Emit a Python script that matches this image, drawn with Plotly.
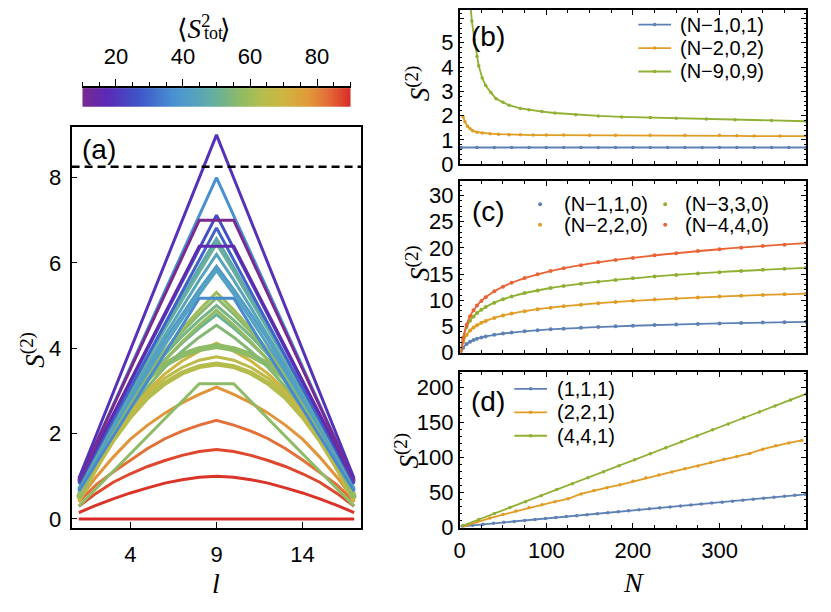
import numpy as np
import plotly.graph_objects as go
from plotly.colors import sample_colorscale

# page is 831x612; the browser's default 8px body margin surrounds the figure
PAD = 8
W, H = 831 - 2 * PAD, 612 - 2 * PAD
def fx(p): return (p - PAD) / W
def fy(p): return 1 - (p - PAD) / H

# ---------------- data: panel (a) ----------------
l_sites = list(range(1, 18))

a_peak900 = [0.95,1.96,2.96,3.97,4.98,5.98,6.99,7.99,9.0,7.99,6.99,5.98,4.98,3.97,2.96,1.96,0.95]
a_peak800 = [0.9,1.79,2.68,3.56,4.45,5.34,6.23,7.11,8.0,7.11,6.23,5.34,4.45,3.56,2.68,1.79,0.9]
a_flat700 = [0.9,1.77,2.64,3.51,4.39,5.26,6.13,7.0,7.0,7.0,6.13,5.26,4.39,3.51,2.64,1.77,0.9]
a_peak712 = [0.85,1.63,2.42,3.2,3.99,4.77,5.55,6.34,7.12,6.34,5.55,4.77,3.99,3.2,2.42,1.63,0.85]
a_peak682 = [0.82,1.57,2.32,3.07,3.82,4.57,5.32,6.07,6.82,6.07,5.32,4.57,3.82,3.07,2.32,1.57,0.82]
a_flat639 = [0.88,1.67,2.45,3.24,4.03,4.82,5.6,6.39,6.39,6.39,5.6,4.82,4.03,3.24,2.45,1.67,0.88]
a_flat517 = [0.65,1.3,1.94,2.59,3.23,3.88,4.52,5.17,5.17,5.17,4.52,3.88,3.23,2.59,1.94,1.3,0.65]
a_peak657 = [0.72,1.5,2.27,3.03,3.78,4.5,5.2,5.9,6.57,5.9,5.2,4.5,3.78,3.03,2.27,1.5,0.72]
a_peak645 = [0.7,1.5,2.28,3.03,3.75,4.45,5.12,5.8,6.45,5.8,5.12,4.45,3.75,3.03,2.28,1.5,0.7]
a_peak620 = [0.68,1.45,2.2,2.92,3.62,4.3,4.95,5.6,6.2,5.6,4.95,4.3,3.62,2.92,2.2,1.45,0.68]
a_peak592 = [0.68,1.45,2.18,2.88,3.55,4.2,4.8,5.38,5.92,5.38,4.8,4.2,3.55,2.88,2.18,1.45,0.68]
a_peak582 = [0.66,1.4,2.12,2.8,3.45,4.08,4.68,5.27,5.82,5.27,4.68,4.08,3.45,2.8,2.12,1.4,0.66]
a_peak531 = [0.55,1.35,2.1,2.8,3.4,3.95,4.45,4.9,5.31,4.9,4.45,3.95,3.4,2.8,2.1,1.35,0.55]
a_peak518 = [0.6,1.4,2.15,2.82,3.4,3.92,4.38,4.8,5.18,4.8,4.38,3.92,3.4,2.82,2.15,1.4,0.6]
a_peak500 = [0.55,1.38,2.12,2.78,3.35,3.85,4.28,4.66,5.0,4.66,4.28,3.85,3.35,2.78,2.12,1.38,0.55]
a_peak489 = [0.5,1.3,2.02,2.66,3.22,3.72,4.15,4.54,4.89,4.54,4.15,3.72,3.22,2.66,2.02,1.3,0.5]
a_peak479 = [0.58,1.4,2.12,2.75,3.28,3.73,4.12,4.47,4.79,4.47,4.12,3.73,3.28,2.75,2.12,1.4,0.58]
a_peak454 = [0.5,1.3,2.0,2.6,3.1,3.55,3.93,4.26,4.54,4.26,3.93,3.55,3.1,2.6,2.0,1.3,0.5]
a_round405 = [0.5,1.4,2.2,2.85,3.3,3.62,3.84,3.98,4.05,3.98,3.84,3.62,3.3,2.85,2.2,1.4,0.5]
a_peak412 = [0.42,1.25,1.95,2.55,3.02,3.4,3.7,3.93,4.12,3.93,3.7,3.4,3.02,2.55,1.95,1.25,0.42]
a_round380 = [0.4,1.15,1.85,2.45,2.95,3.3,3.55,3.72,3.8,3.72,3.55,3.3,2.95,2.45,1.85,1.15,0.4]
a_round363 = [0.45,1.2,1.85,2.4,2.85,3.18,3.42,3.57,3.63,3.57,3.42,3.18,2.85,2.4,1.85,1.2,0.45]
a_flat317 = [0.3,0.71,1.12,1.53,1.94,2.35,2.76,3.17,3.17,3.17,2.76,2.35,1.94,1.53,1.12,0.71,0.3]
a_peak309 = [0.45,0.98,1.45,1.87,2.2,2.48,2.72,2.92,3.09,2.92,2.72,2.48,2.2,1.87,1.45,0.98,0.45]
a_peak231 = [0.4,0.8,1.1,1.38,1.65,1.88,2.06,2.2,2.31,2.2,2.06,1.88,1.65,1.38,1.1,0.8,0.4]
a_peak163 = [0.3,0.6,0.86,1.06,1.23,1.37,1.49,1.58,1.63,1.58,1.49,1.37,1.23,1.06,0.86,0.6,0.3]
a_peak100 = [0.15,0.32,0.47,0.61,0.73,0.84,0.92,0.98,1.0,0.98,0.92,0.84,0.73,0.61,0.47,0.32,0.15]
a_zero = [0,0,0,0,0,0,0,0,0,0,0,0,0,0,0,0,0]

a_curves = [a_zero, a_peak100, a_peak163, a_peak231, a_peak309, a_flat317, a_round363,
            a_round380, a_peak412, a_round405, a_peak454, a_peak479, a_peak489, a_peak500,
            a_peak518, a_peak531, a_peak582, a_peak592, a_peak620, a_peak645, a_peak657,
            a_flat517, a_peak682, a_peak712, a_flat639, a_peak800, a_flat700, a_peak900]
# <S_tot^2> value (colour) of each curve, same order
a_stot = [90, 89, 87, 83, 78, 57, 64, 66, 70, 57, 55, 51, 58, 53, 56, 60, 43, 41, 44, 50, 47,
          36, 29, 25, 16, 37, 10, 19]
a_widths = [3, 3, 3, 3, 3, 3, 5, 3, 3, 6, 3, 3, 3, 3, 3, 3, 3, 3, 3, 3, 3,
            3, 3, 3, 3, 3, 3, 3]
page_value = 8.25
stot_range = [10, 90]

# ---------------- data: panel (b) ----------------
b_blue_N = [2, 20, 40, 60, 80, 100, 120, 140, 160, 180, 200, 220, 240, 260, 280, 300, 320, 340, 360, 380, 400]
b_blue_S = [0.69, 0.69, 0.69, 0.69, 0.69, 0.69, 0.69, 0.69, 0.69, 0.69, 0.69, 0.69, 0.69, 0.69, 0.69, 0.69, 0.69, 0.69, 0.69, 0.69, 0.69]
b_orange_N = [4, 6, 9, 12, 15, 20, 26, 35, 45, 57, 70, 85, 100, 120, 150, 180, 220, 260, 300, 320, 340, 370, 400]
b_orange_S = [1.96, 1.75, 1.56, 1.46, 1.38, 1.32, 1.29, 1.26, 1.24, 1.22, 1.21, 1.2, 1.2, 1.2, 1.19, 1.19, 1.19, 1.19, 1.19, 1.17, 1.16, 1.16, 1.16]
b_green_N = [10, 12, 14, 17, 20, 22, 26, 30, 36, 42, 50, 57, 70, 80, 95, 110, 134, 160, 187, 220, 250, 285, 318, 360, 400]
b_green_S = [7.6, 6.6, 5.9, 5.12, 4.45, 4.05, 3.55, 3.24, 2.95, 2.7, 2.55, 2.43, 2.3, 2.24, 2.17, 2.11, 2.04, 1.99, 1.95, 1.92, 1.89, 1.86, 1.83, 1.8, 1.77]

# ---------------- data: panel (c) ----------------
c_N = [4, 8, 12, 16, 20, 25, 30, 40, 50, 60, 75, 90, 105, 120, 140, 160, 180, 200, 225, 250, 275, 300, 325, 350, 375, 400]
c_blue = [0.93, 1.68, 2.11, 2.42, 2.67, 2.91, 3.1, 3.41, 3.65, 3.85, 4.09, 4.29, 4.46, 4.6, 4.77, 4.91, 5.04, 5.15, 5.28, 5.39, 5.5, 5.59, 5.68, 5.76, 5.83, 5.9]
c_orange = [2.0, 3.4, 4.22, 4.8, 5.25, 5.7, 6.07, 6.65, 7.1, 7.47, 7.92, 8.29, 8.6, 8.87, 9.18, 9.45, 9.69, 9.9, 10.14, 10.35, 10.54, 10.72, 10.88, 11.03, 11.17, 11.3]
c_green = [2.92, 4.92, 6.09, 6.92, 7.56, 8.21, 8.73, 9.56, 10.21, 10.73, 11.38, 11.9, 12.35, 12.73, 13.18, 13.56, 13.9, 14.21, 14.55, 14.85, 15.13, 15.38, 15.61, 15.82, 16.02, 16.21]
c_red = [2.6, 5.36, 6.97, 8.1, 9.0, 9.88, 10.6, 11.75, 12.6, 13.35, 14.25, 14.96, 15.58, 16.1, 16.7, 17.25, 17.7, 18.1, 18.6, 19.0, 19.4, 19.75, 20.05, 20.35, 20.6, 20.9]
c_fit_N = [1.5, 2, 3, 4, 6, 8, 12, 16, 25, 40, 60, 100, 150, 200, 300, 400]
c_fit_blue = [0, 0.18, 0.62, 0.93, 1.37, 1.68, 2.11, 2.42, 2.91, 3.41, 3.85, 4.4, 4.84, 5.15, 5.59, 5.9]
c_fit_orange = [0.02, 0.6, 1.42, 2.0, 2.82, 3.4, 4.22, 4.8, 5.7, 6.65, 7.47, 8.5, 9.32, 9.9, 10.72, 11.3]
c_fit_green = [0.09, 0.92, 2.09, 2.92, 4.09, 4.92, 6.09, 6.92, 8.21, 9.56, 10.73, 12.21, 13.38, 14.21, 15.38, 16.21]
c_fit_red = [0, 0, 1.46, 2.6, 4.21, 5.36, 6.97, 8.1, 9.88, 11.75, 13.35, 15.38, 16.99, 18.1, 19.75, 20.9]

# ---------------- data: panel (d) ----------------
d_blue_N = [3, 15, 27, 39, 51, 63, 75, 87, 99, 111, 123, 135, 147, 159, 171, 183, 195, 207, 219, 231, 243, 255, 267, 279, 291, 303, 315, 327, 339, 351, 363, 375, 387, 399]
d_blue_S = [1.8, 3.2, 4.6, 6.0, 7.4, 8.7, 10.1, 11.5, 12.9, 14.3, 15.6, 17.0, 18.4, 19.8, 21.2, 22.5, 23.9, 25.3, 26.7, 28.1, 29.4, 30.8, 32.2, 33.6, 35.0, 36.3, 37.7, 39.1, 40.5, 41.9, 43.2, 44.6, 46.0, 47.4]
d_orange_N = [5, 20, 35, 50, 65, 80, 95, 110, 125, 140, 155, 170, 185, 200, 215, 230, 245, 260, 275, 290, 305, 320, 335, 350, 365, 380, 395]
d_orange_S = [2, 8, 13.5, 18.5, 23.5, 28.5, 32.5, 37, 41, 48, 53, 57, 61, 66, 71, 75, 79.5, 84, 88, 93, 97.5, 101.5, 106, 112, 117, 121, 124.5]
d_green_N = [4, 22, 40, 58, 76, 94, 112, 130, 148, 166, 184, 202, 220, 238, 256, 274, 292, 310, 328, 346, 364, 382, 400]
d_green_S = [2.9, 11.5, 20, 28.5, 37, 45.6, 54.2, 62.7, 71.3, 79.8, 88.4, 97, 105.5, 114, 122.6, 131, 139.7, 148.2, 156.8, 165.3, 173.9, 182.4, 191]

b_labels = ["(N\u22121,0,1)", "(N\u22122,0,2)", "(N\u22129,0,9)"]
c_labels = ["(N\u22121,1,0)", "(N\u22122,2,0)", "(N\u22123,3,0)", "(N\u22124,4,0)"]
d_labels = ["(1,1,1)", "(2,2,1)", "(4,4,1)"]

# ---------------- styling ----------------
RAINBOW = [[0.0, 'rgb(122,42,142)'], [0.09, 'rgb(90,42,181)'], [0.21, 'rgb(62,85,200)'],
           [0.35, 'rgb(74,149,210)'], [0.42, 'rgb(85,162,190)'], [0.5, 'rgb(104,176,154)'],
           [0.59, 'rgb(143,187,101)'], [0.66, 'rgb(176,190,79)'], [0.75, 'rgb(207,181,64)'],
           [0.84, 'rgb(225,154,58)'], [0.91, 'rgb(227,113,58)'], [1.0, 'rgb(217,42,37)']]
BLUE, ORANGE, GREEN, RED = '#5E81B5', '#E19C24', '#8FB032', '#EB6235'
SANS = "Liberation Sans, Arial, sans-serif"
SERIF = "Liberation Serif, DejaVu Serif, serif"
TICKF = dict(family=SANS, size=22, color='black')

fig = go.Figure()

lo, hi = stot_range
a_colors = sample_colorscale(RAINBOW, [(v - lo) / (hi - lo) for v in a_stot])
for ys, col, w in zip(a_curves, a_colors, a_widths):
    fig.add_trace(go.Scatter(x=l_sites, y=ys, mode='lines', line=dict(color=col, width=w),
                             xaxis='x', yaxis='y', showlegend=False, hoverinfo='skip'))

cb_x = np.linspace(lo, hi, 161)
fig.add_trace(go.Heatmap(x=cb_x, y=[0], z=[cb_x], colorscale=RAINBOW, zmin=lo, zmax=hi,
                         showscale=False, xaxis='x2', yaxis='y2', hoverinfo='skip'))

for n, s, col in [(b_blue_N, b_blue_S, BLUE), (b_orange_N, b_orange_S, ORANGE), (b_green_N, b_green_S, GREEN)]:
    fig.add_trace(go.Scatter(x=n, y=s, mode='lines+markers', line=dict(color=col, width=1.8),
                             marker=dict(color=col, size=3.5), xaxis='x3', yaxis='y3', showlegend=False))

for fitv, pts, col in [(c_fit_blue, c_blue, BLUE), (c_fit_orange, c_orange, ORANGE),
                       (c_fit_green, c_green, GREEN), (c_fit_red, c_red, RED)]:
    fig.add_trace(go.Scatter(x=c_fit_N, y=fitv, mode='lines', line=dict(color=col, width=1.8, shape='spline'),
                             xaxis='x4', yaxis='y4', showlegend=False))
    fig.add_trace(go.Scatter(x=c_N, y=pts, mode='markers', marker=dict(color=col, size=4),
                             xaxis='x4', yaxis='y4', showlegend=False))

for n, s, col in [(d_blue_N, d_blue_S, BLUE), (d_orange_N, d_orange_S, ORANGE), (d_green_N, d_green_S, GREEN)]:
    fig.add_trace(go.Scatter(x=n, y=s, mode='lines+markers', line=dict(color=col, width=1.8),
                             marker=dict(color=col, size=3.5), xaxis='x5', yaxis='y5', showlegend=False))

def frame_axis(**kw):
    base = dict(showline=True, linecolor='black', linewidth=1.6, mirror=True, ticks='inside',
                tickcolor='black', tickwidth=1.2, showgrid=False, zeroline=False, tickfont=TICKF)
    base.update(kw)
    return base

right_x = [fx(457), fx(806)]
minor_x = dict(dtick=25, ticklen=3, ticks='inside', tickcolor='black')
layout = dict(
    width=W, height=H, autosize=False, margin=dict(l=0, r=0, t=0, b=0),
    paper_bgcolor='white', plot_bgcolor='white', showlegend=False,
    xaxis=frame_axis(domain=[fx(66), fx(358)], range=[0.58, 17.42], tickvals=[4, 9, 14], ticklen=6,
                     anchor='y', ticklabelstandoff=6),
    yaxis=frame_axis(domain=[fy(539), fy(129)], range=[-0.2, 9.18], tickvals=[0, 2, 4, 6, 8], ticklen=6,
                     anchor='x', ticklabelstandoff=4),
    xaxis2=dict(domain=[fx(77), fx(347)], range=[lo, hi], side='top', anchor='y2', showline=True,
                linecolor='black', linewidth=1.6, ticks='outside', ticklen=7, tickwidth=1.2,
                tickcolor='black', tickvals=[20, 40, 60, 80], tickfont=TICKF, showgrid=False,
                zeroline=False, ticklabelstandoff=6,
                minor=dict(dtick=5, tick0=0, ticks='outside', ticklen=4, tickcolor='black', tickwidth=1.2)),
    yaxis2=dict(domain=[fy(108), fy(89)], range=[-0.5, 0.5], visible=False, anchor='x2'),
    xaxis3=frame_axis(domain=right_x, range=[0, 400], dtick=100, ticklen=5, mirror='allticks',
                      showticklabels=False, anchor='y3', minor=minor_x),
    yaxis3=frame_axis(domain=[fy(167), fy(9)], range=[0, 6.35], dtick=1, ticklen=5, mirror='allticks',
                      anchor='x3', minor=dict(dtick=0.2, ticklen=2.5, ticks='inside', tickcolor='black')),
    xaxis4=frame_axis(domain=right_x, range=[0, 400], dtick=100, ticklen=5, mirror='allticks',
                      showticklabels=False, anchor='y4', minor=minor_x),
    yaxis4=frame_axis(domain=[fy(360), fy(184)], range=[0, 32.8], dtick=5, ticklen=5, mirror='allticks',
                      anchor='x4', minor=dict(dtick=1, ticklen=2.5, ticks='inside', tickcolor='black')),
    xaxis5=frame_axis(domain=right_x, range=[0, 400], dtick=100, ticklen=5, mirror='allticks',
                      anchor='y5', minor=minor_x, ticklabelstandoff=2),
    yaxis5=frame_axis(domain=[fy(539), fy(380)], range=[0, 222], dtick=50, ticklen=5, mirror='allticks',
                      anchor='x5', minor=dict(dtick=10, ticklen=2.5, ticks='inside', tickcolor='black')),
)
fig.update_layout(**layout)

fig.add_shape(type='line', xref='x domain', yref='y', x0=0, x1=1, y0=page_value, y1=page_value,
              line=dict(color='black', width=2.5, dash='8px,5px'))

ann = []
def text(xp, yp, s, size, family=SANS, xanchor='center', angle=0, color='black'):
    ann.append(dict(x=fx(xp), y=fy(yp), xref='paper', yref='paper', text=s, showarrow=False,
                    xanchor=xanchor, yanchor='middle', textangle=angle,
                    font=dict(family=family, size=size, color=color)))

text(94, 152, "(a)", 28)
text(486, 36, "(b)", 28)
text(486, 215, "(c)", 28)
text(486, 410, "(d)", 28)

s2 = "<i>S</i><sup>(2)</sup>"
text(27, 357, s2, 27, SERIF, angle=-90)
text(415, 84, s2, 27, SERIF, angle=-90)
text(415, 268, s2, 27, SERIF, angle=-90)
text(404, 460, s2, 27, SERIF, angle=-90)
text(212, 596, "<i>l</i>", 28, SERIF)
text(632, 595, "<i>N</i>", 28, SERIF)

# colour bar title <S^2_tot>
text(199, 26, "\u27e8<i>S</i><sup>2&nbsp;&nbsp;</sup>\u27e9", 27, SERIF)
text(197, 33, "tot", 18, SERIF, xanchor='left')

shapes = []
def leg_line(x0, x1, yp, col):
    shapes.append(dict(type='line', xref='paper', yref='paper', x0=fx(x0), x1=fx(x1), y0=fy(yp), y1=fy(yp),
                       line=dict(color=col, width=1.8)))
def leg_dot(xp, yp, col, r=1.8):
    shapes.append(dict(type='circle', xref='paper', yref='paper', x0=fx(xp - r), x1=fx(xp + r),
                       y0=fy(yp + r), y1=fy(yp - r), fillcolor=col, line=dict(width=0)))

for i, (lab, col) in enumerate(zip(b_labels, [BLUE, ORANGE, GREEN])):
    yp = 24 + 24 * i
    leg_line(637, 670, yp, col)
    leg_dot(653.5, yp, col)
    text(677, yp, lab, 20, xanchor='left')
for lab, col, xd, xt, yp in zip(c_labels, [BLUE, ORANGE, GREEN, RED], [538, 538, 664, 664],
                                [560, 560, 682, 682], [208, 229, 208, 229]):
    leg_dot(xd, yp, col, 2)
    text(xt, yp, lab, 20, xanchor='left')
for i, (lab, col) in enumerate(zip(d_labels, [BLUE, ORANGE, GREEN])):
    yp = 397 + 24 * i
    leg_line(512, 545, yp, col)
    leg_dot(528.5, yp, col)
    text(553, yp, lab, 20, xanchor='left')

fig.update_layout(annotations=ann)
for s in shapes:
    fig.add_shape(**s)

fig.write_html("out.html", config={'displayModeBar': False})
